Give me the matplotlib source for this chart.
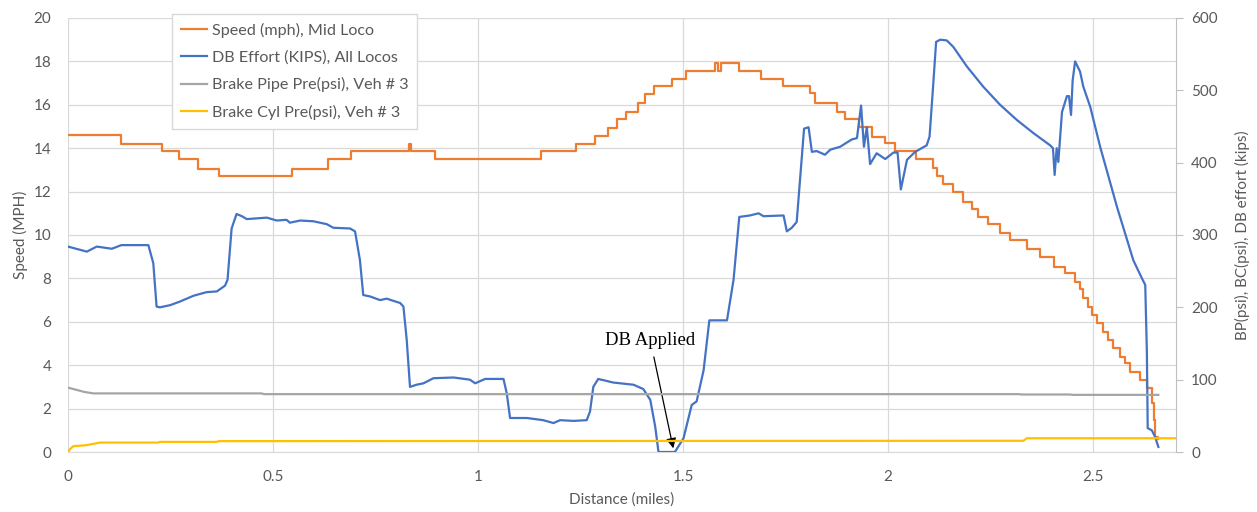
import numpy as np
import matplotlib
matplotlib.use("Agg")
from matplotlib import pyplot as plt

plt.rcParams['font.family'] = ['Lato', 'DejaVu Sans']

# speed (mph), stepped: distance where each level starts, level value
speed_x = [0, 0.13, 0.23, 0.27, 0.316, 0.368, 0.546, 0.634, 0.69, 0.832, 0.837,
           0.895, 1.154, 1.239, 1.285, 1.318, 1.338, 1.361, 1.391, 1.407, 1.43,
           1.472, 1.507, 1.578, 1.586, 1.592, 1.637, 1.69, 1.743, 1.81, 1.822,
           1.875, 1.895, 1.93, 1.96, 1.993, 2.017, 2.068, 2.11, 2.119, 2.135,
           2.159, 2.183, 2.205, 2.22, 2.244, 2.273, 2.298, 2.339, 2.371, 2.405,
           2.432, 2.456, 2.468, 2.476, 2.488, 2.498, 2.51, 2.524, 2.537, 2.549,
           2.566, 2.578, 2.59, 2.615, 2.632, 2.644, 2.648, 2.652, 2.657]
speed_v = [14.6, 14.2, 13.85, 13.5, 13.05, 12.7, 13.05, 13.5, 13.85, 14.2, 13.85,
           13.5, 13.85, 14.2, 14.56, 14.95, 15.35, 15.68, 16.07, 16.48, 16.88,
           17.17, 17.57, 17.94, 17.57, 17.94, 17.57, 17.2, 16.88, 16.53, 16.07,
           15.68, 15.35, 14.96, 14.53, 14.22, 13.87, 13.49, 13.07, 12.72, 12.35,
           11.97, 11.53, 11.2, 10.84, 10.49, 10.08, 9.77, 9.34, 8.97, 8.54,
           8.23, 7.85, 7.5, 7.08, 6.7, 6.31, 5.96, 5.54, 5.16, 4.77,
           4.38, 4.08, 3.7, 3.32, 2.94, 2.26, 1.47, 0.7, 0.6]

# DB effort (kips), all locos
db_x = [0.0, 0.046, 0.07, 0.107, 0.13, 0.196, 0.208, 0.216, 0.224, 0.249, 0.273,
        0.306, 0.338, 0.363, 0.383, 0.389, 0.399, 0.411, 0.424, 0.436, 0.485,
        0.509, 0.533, 0.541, 0.566, 0.598, 0.631, 0.647, 0.688, 0.7, 0.712,
        0.72, 0.737, 0.761, 0.777, 0.81, 0.818, 0.826, 0.834, 0.85, 0.867,
        0.891, 0.94, 0.98, 0.993, 1.017, 1.062, 1.07, 1.078, 1.119, 1.159,
        1.184, 1.2, 1.233, 1.265, 1.273, 1.281, 1.293, 1.33, 1.379, 1.403,
        1.42, 1.432, 1.44, 1.48, 1.501, 1.521, 1.533, 1.55, 1.564, 1.607,
        1.623, 1.637, 1.663, 1.684, 1.696, 1.745, 1.753, 1.765, 1.777, 1.785,
        1.795, 1.806, 1.814, 1.826, 1.846, 1.859, 1.883, 1.911, 1.924, 1.934,
        1.941, 1.948, 1.956, 1.972, 1.993, 2.013, 2.023, 2.031, 2.046, 2.066,
        2.094, 2.101, 2.109, 2.117, 2.127, 2.143, 2.159, 2.192, 2.232, 2.273,
        2.314, 2.354, 2.395, 2.402, 2.406, 2.411, 2.415, 2.424, 2.436, 2.441,
        2.446, 2.45, 2.456, 2.468, 2.476, 2.493, 2.517, 2.558, 2.598, 2.619,
        2.627, 2.631, 2.633, 2.643, 2.651, 2.659]
db_v = [284, 277, 284, 281, 286, 286, 261, 201, 200, 203, 208,
        216, 221, 222, 230, 238, 309, 329, 326, 322, 324,
        320, 321, 317, 320, 319, 315, 310, 309, 305, 265,
        217, 215, 210, 212, 206, 201, 155, 90, 93, 95,
        102, 103, 100, 95, 101, 101, 81, 47, 47, 44,
        40, 44, 43, 44, 56, 90, 101, 96, 93, 87,
        72, 35, 0, 0, 19, 65, 70, 113, 182, 182,
        238, 325, 327, 330, 326, 327, 305, 310, 318, 376,
        447, 449, 415, 416, 411, 418, 422, 432, 434, 479,
        422, 449, 398, 413, 405, 414, 414, 363, 404, 415,
        424, 436, 500, 567, 570, 569, 560, 533, 505, 480,
        459, 441, 424, 420, 383, 420, 401, 470, 492, 492,
        466, 514, 540, 526, 505, 477, 422, 339, 265, 240,
        231, 137, 33, 30, 21, 7]

# brake pipe pressure (psi), veh 3
bp_x = [0.0, 0.02, 0.04, 0.062, 0.472, 0.478, 2.32, 2.325, 2.444, 2.45, 2.659]
bp_v = [89, 86, 83, 81, 81, 80, 80, 79.5, 79.5, 79, 79]

# brake cylinder pressure (psi), veh 3
bc_x = [0.0, 0.005, 0.013, 0.037, 0.05, 0.078, 0.22, 0.224, 0.363, 0.367, 2.33, 2.338, 2.702]
bc_v = [0, 4, 8, 9, 10, 13, 13, 14, 14, 15, 15.5, 19, 19]

grey = '#595959'
gridc = '#d9d9d9'

fig = plt.figure(figsize=(12.57, 5.12), dpi=100)
ax = fig.add_axes([68/1257, 60/512, 1108/1257, 434/512])
ax2 = ax.twinx()

l1, = ax.plot(speed_x, speed_v, drawstyle='steps-post', color='#ED7D31', lw=1.6)
l2, = ax2.plot(db_x, db_v, color='#4472C4', lw=1.6)
l3, = ax2.plot(bp_x, bp_v, color='#A5A5A5', lw=1.6)
l4, = ax2.plot(bc_x, bc_v, color='#FFC000', lw=1.6)

ax.set_xlim(0, 2.702)
ax.set_ylim(0, 20)
ax2.set_ylim(0, 600)
ax.set_xticks([0, 0.5, 1, 1.5, 2, 2.5])
ax.set_xticklabels(['0', '0.5', '1', '1.5', '2', '2.5'])
ax.set_yticks(np.arange(0, 21, 2))
ax2.set_yticks(np.arange(0, 601, 100))
ax.grid(True, color=gridc, lw=0.9)
ax.set_axisbelow(True)

for s in ['top', 'left', 'right']:
    ax.spines[s].set_visible(False)
for s in ['top', 'left', 'bottom']:
    ax2.spines[s].set_visible(False)
ax.spines['bottom'].set_color(gridc)
ax2.spines['right'].set_color('#bfbfbf')
ax.tick_params(axis='x', length=0, colors=grey, labelsize=11, pad=13)
ax.tick_params(axis='y', length=0, colors=grey, labelsize=11, pad=12)
ax2.tick_params(axis='y', length=5, color='#bfbfbf', colors=grey, labelsize=11, pad=6)

ax.set_xlabel('Distance (miles)', color=grey, fontsize=11, labelpad=6)
ax.set_ylabel('Speed (MPH)', color=grey, fontsize=11, labelpad=4)
ax2.set_ylabel('BP(psi), BC(psi), DB effort (kips)', color=grey, fontsize=11, labelpad=12)

leg = ax2.legend([l1, l2, l3, l4],
                 ['Speed (mph), Mid Loco', 'DB Effort (KIPS), All Locos',
                  'Brake Pipe Pre(psi), Veh # 3', 'Brake Cyl Pre(psi), Veh # 3'],
                 loc='upper left', bbox_to_anchor=(0.094, 1.009), fontsize=11.6,
                 handlelength=1.6, handletextpad=0.3, borderpad=0.55,
                 labelspacing=0.77, borderaxespad=0, fancybox=False, framealpha=1)
leg.get_frame().set_edgecolor(gridc)
for t in leg.get_texts():
    t.set_color(grey)

ax.annotate('DB Applied', xy=(1.476, 0.17), xytext=(1.42, 5.15),
            ha='center', va='center', fontsize=13.5, family='Liberation Serif',
            arrowprops=dict(arrowstyle='-|>', color='black', lw=0.9,
                            shrinkA=4, shrinkB=0, mutation_scale=15))

plt.savefig('out.png', dpi=100)
